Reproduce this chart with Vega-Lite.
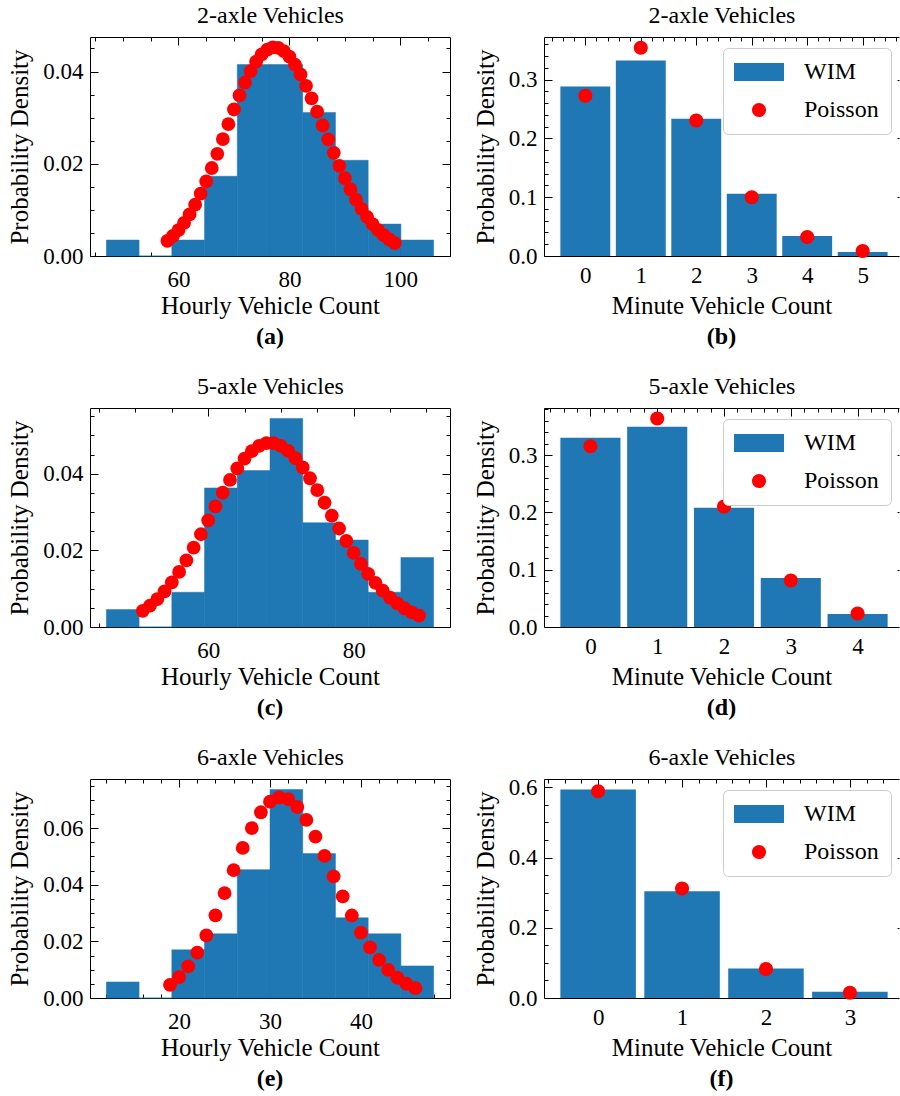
{
  "$schema": "https://vega.github.io/schema/vega-lite/v6.json",
  "padding": {"left": 7, "top": 3, "right": 0, "bottom": 0},
  "background": "white",
  "resolve": {"scale": {"color": "independent", "shape": "independent"}},
  "config": {
    "view": {"stroke": null},
    "font": "Liberation Serif",
    "axis": {
      "labelFont": "Liberation Serif", "labelFontSize": 23, "labelColor": "black",
      "titleFont": "Liberation Serif", "titleFontSize": 25, "titleFontWeight": "normal", "titleColor": "black",
      "domainColor": "black", "domainWidth": 1, "tickColor": "black", "tickWidth": 1,
      "grid": false, "labelOverlap": false, "labelFlush": false, "labelBound": false, "zindex": 1
    },
    "axisBottom": {"labelPadding": 16, "titlePadding": 2},
    "axisLeft": {"labelPadding": 15, "titlePadding": 10},
    "axisTop": {"titleFontSize": 24, "titlePadding": 9},
    "title": {"font": "Liberation Serif", "fontSize": 24, "fontWeight": "bold", "color": "black", "offset": 7, "anchor": "middle"}
  },
  "datasets": {
    "hist_a": [
      {"bin_start": 47, "bin_end": 52.9, "density": 0.003459},
      {"bin_start": 52.9, "bin_end": 58.8, "density": 0},
      {"bin_start": 58.8, "bin_end": 64.7, "density": 0.003459},
      {"bin_start": 64.7, "bin_end": 70.6, "density": 0.017295},
      {"bin_start": 70.6, "bin_end": 76.5, "density": 0.041508},
      {"bin_start": 76.5, "bin_end": 82.4, "density": 0.041508},
      {"bin_start": 82.4, "bin_end": 88.3, "density": 0.031131},
      {"bin_start": 88.3, "bin_end": 94.2, "density": 0.020754},
      {"bin_start": 94.2, "bin_end": 100.1, "density": 0.006918},
      {"bin_start": 100.1, "bin_end": 106, "density": 0.003459}
    ],
    "pois_a": [
      {"k": 58, "p": 0.00329}, {"k": 59, "p": 0.00434}, {"k": 60, "p": 0.00563}, {"k": 61, "p": 0.00718},
      {"k": 62, "p": 0.00901}, {"k": 63, "p": 0.01113}, {"k": 64, "p": 0.01353}, {"k": 65, "p": 0.01619},
      {"k": 66, "p": 0.01908}, {"k": 67, "p": 0.02216}, {"k": 68, "p": 0.02536}, {"k": 69, "p": 0.02859},
      {"k": 70, "p": 0.03177}, {"k": 71, "p": 0.03482}, {"k": 72, "p": 0.03762}, {"k": 73, "p": 0.04010},
      {"k": 74, "p": 0.04216}, {"k": 75, "p": 0.04373}, {"k": 76, "p": 0.04476}, {"k": 77, "p": 0.04523},
      {"k": 78, "p": 0.04511}, {"k": 79, "p": 0.04443}, {"k": 80, "p": 0.04321}, {"k": 81, "p": 0.04150},
      {"k": 82, "p": 0.03937}, {"k": 83, "p": 0.03691}, {"k": 84, "p": 0.03418}, {"k": 85, "p": 0.03129},
      {"k": 86, "p": 0.02830}, {"k": 87, "p": 0.02531}, {"k": 88, "p": 0.02238}, {"k": 89, "p": 0.01956},
      {"k": 90, "p": 0.01691}, {"k": 91, "p": 0.01446}, {"k": 92, "p": 0.01223}, {"k": 93, "p": 0.01023},
      {"k": 94, "p": 0.00846}, {"k": 95, "p": 0.00693}, {"k": 96, "p": 0.00562}, {"k": 97, "p": 0.00451},
      {"k": 98, "p": 0.00358}, {"k": 99, "p": 0.00281}
    ],
    "hist_c": [
      {"bin_start": 46, "bin_end": 50.5, "density": 0.004535},
      {"bin_start": 50.5, "bin_end": 55, "density": 0},
      {"bin_start": 55, "bin_end": 59.5, "density": 0.009070},
      {"bin_start": 59.5, "bin_end": 64, "density": 0.036281},
      {"bin_start": 64, "bin_end": 68.5, "density": 0.040816},
      {"bin_start": 68.5, "bin_end": 73, "density": 0.054422},
      {"bin_start": 73, "bin_end": 77.5, "density": 0.027211},
      {"bin_start": 77.5, "bin_end": 82, "density": 0.022676},
      {"bin_start": 82, "bin_end": 86.5, "density": 0.009070},
      {"bin_start": 86.5, "bin_end": 91, "density": 0.018141}
    ],
    "pois_c": [
      {"k": 51, "p": 0.00421}, {"k": 52, "p": 0.00559}, {"k": 53, "p": 0.00727}, {"k": 54, "p": 0.00929},
      {"k": 55, "p": 0.01166}, {"k": 56, "p": 0.01437}, {"k": 57, "p": 0.01739}, {"k": 58, "p": 0.02069},
      {"k": 59, "p": 0.02420}, {"k": 60, "p": 0.02782}, {"k": 61, "p": 0.03147}, {"k": 62, "p": 0.03503},
      {"k": 63, "p": 0.03836}, {"k": 64, "p": 0.04136}, {"k": 65, "p": 0.04391}, {"k": 66, "p": 0.04590},
      {"k": 67, "p": 0.04727}, {"k": 68, "p": 0.04797}, {"k": 69, "p": 0.04797}, {"k": 70, "p": 0.04728},
      {"k": 71, "p": 0.04595}, {"k": 72, "p": 0.04404}, {"k": 73, "p": 0.04162}, {"k": 74, "p": 0.03881},
      {"k": 75, "p": 0.03571}, {"k": 76, "p": 0.03242}, {"k": 77, "p": 0.02905}, {"k": 78, "p": 0.02570},
      {"k": 79, "p": 0.02244}, {"k": 80, "p": 0.01936}, {"k": 81, "p": 0.01649}, {"k": 82, "p": 0.01388},
      {"k": 83, "p": 0.01154}, {"k": 84, "p": 0.00948}, {"k": 85, "p": 0.00769}, {"k": 86, "p": 0.00617},
      {"k": 87, "p": 0.00489}, {"k": 88, "p": 0.00384}, {"k": 89, "p": 0.00298}
    ],
    "hist_e": [
      {"bin_start": 12, "bin_end": 15.6, "density": 0.005669},
      {"bin_start": 15.6, "bin_end": 19.2, "density": 0},
      {"bin_start": 19.2, "bin_end": 22.8, "density": 0.017007},
      {"bin_start": 22.8, "bin_end": 26.4, "density": 0.022676},
      {"bin_start": 26.4, "bin_end": 30, "density": 0.045351},
      {"bin_start": 30, "bin_end": 33.6, "density": 0.073696},
      {"bin_start": 33.6, "bin_end": 37.2, "density": 0.051020},
      {"bin_start": 37.2, "bin_end": 40.8, "density": 0.028345},
      {"bin_start": 40.8, "bin_end": 44.4, "density": 0.022676},
      {"bin_start": 44.4, "bin_end": 48, "density": 0.011338}
    ],
    "pois_e": [
      {"k": 19, "p": 0.00466}, {"k": 20, "p": 0.00738}, {"k": 21, "p": 0.01114}, {"k": 22, "p": 0.01605},
      {"k": 23, "p": 0.02212}, {"k": 24, "p": 0.02922}, {"k": 25, "p": 0.03705}, {"k": 26, "p": 0.04517},
      {"k": 27, "p": 0.05303}, {"k": 28, "p": 0.06004}, {"k": 29, "p": 0.06563}, {"k": 30, "p": 0.06935},
      {"k": 31, "p": 0.07092}, {"k": 32, "p": 0.07025}, {"k": 33, "p": 0.06749}, {"k": 34, "p": 0.06292},
      {"k": 35, "p": 0.05699}, {"k": 36, "p": 0.05018}, {"k": 37, "p": 0.04299}, {"k": 38, "p": 0.03587},
      {"k": 39, "p": 0.02915}, {"k": 40, "p": 0.02310}, {"k": 41, "p": 0.01786}, {"k": 42, "p": 0.01348},
      {"k": 43, "p": 0.00994}, {"k": 44, "p": 0.00716}, {"k": 45, "p": 0.00504}, {"k": 46, "p": 0.00348}
    ],
    "wim_b": [
      {"k": 0, "p": 0.2881, "series": "WIM"}, {"k": 1, "p": 0.3324, "series": "WIM"},
      {"k": 2, "p": 0.2335, "series": "WIM"}, {"k": 3, "p": 0.1057, "series": "WIM"},
      {"k": 4, "p": 0.0341, "series": "WIM"}, {"k": 5, "p": 0.0068, "series": "WIM"}
    ],
    "pois_b": [
      {"k": 0, "p": 0.2725, "series": "Poisson"}, {"k": 1, "p": 0.3543, "series": "Poisson"},
      {"k": 2, "p": 0.2303, "series": "Poisson"}, {"k": 3, "p": 0.0998, "series": "Poisson"},
      {"k": 4, "p": 0.0324, "series": "Poisson"}, {"k": 5, "p": 0.0084, "series": "Poisson"}
    ],
    "wim_d": [
      {"k": 0, "p": 0.3302, "series": "WIM"}, {"k": 1, "p": 0.3494, "series": "WIM"},
      {"k": 2, "p": 0.2079, "series": "WIM"}, {"k": 3, "p": 0.0856, "series": "WIM"},
      {"k": 4, "p": 0.0227, "series": "WIM"}
    ],
    "pois_d": [
      {"k": 0, "p": 0.3151, "series": "Poisson"}, {"k": 1, "p": 0.3639, "series": "Poisson"},
      {"k": 2, "p": 0.2101, "series": "Poisson"}, {"k": 3, "p": 0.0809, "series": "Poisson"},
      {"k": 4, "p": 0.0234, "series": "Poisson"}
    ],
    "wim_f": [
      {"k": 0, "p": 0.5941, "series": "WIM"}, {"k": 1, "p": 0.3038, "series": "WIM"},
      {"k": 2, "p": 0.0838, "series": "WIM"}, {"k": 3, "p": 0.0181, "series": "WIM"}
    ],
    "pois_f": [
      {"k": 0, "p": 0.5886, "series": "Poisson"}, {"k": 1, "p": 0.3120, "series": "Poisson"},
      {"k": 2, "p": 0.0827, "series": "Poisson"}, {"k": 3, "p": 0.0146, "series": "Poisson"}
    ]
  },
  "vconcat": [
    {
      "resolve": {"scale": {"color": "independent", "shape": "independent"}},
      "hconcat": [
        {
          "width": 360, "height": 219,
          "title": {"text": "(a)", "orient": "bottom"},
          "resolve": {"axis": {"x": "independent", "y": "independent"}},
          "layer": [
            {
              "data": {"name": "hist_a"},
              "mark": {"type": "bar", "color": "#1f77b4", "stroke": "#1f77b4", "strokeWidth": 0.5},
              "encoding": {
                "x": {"field": "bin_start", "type": "quantitative", "scale": {"domain": [44.05, 108.95], "nice": false, "zero": false, "padding": 0},
                  "axis": {"orient": "bottom", "title": "Hourly Vehicle Count", "labelOverlap": false, "labelPadding": 16, "titlePadding": -2, "labelBaseline": "line-top", "labelLineHeight": 31, "values": [45, 50, 55, 60, 65, 70, 75, 80, 85, 90, 95, 100, 105], "format": "d",
                    "labelExpr": "datum.value % 20 === 0 ? datum.label : ''",
                    "tickSize": {"condition": {"test": "datum.value % 20 === 0", "value": -8}, "value": -4}}},
                "x2": {"field": "bin_end"},
                "y": {"field": "density", "type": "quantitative", "scale": {"domain": [0, 0.04749], "nice": false},
                  "axis": {"orient": "left", "title": "Probability Density", "labelOverlap": false, "values": [0, 0.005, 0.01, 0.015, 0.02, 0.025, 0.03, 0.035, 0.04, 0.045], "format": ".2f",
                    "labelExpr": "round(datum.value*1000) % 20 === 0 ? datum.label : ''",
                    "tickSize": {"condition": {"test": "round(datum.value*1000) % 20 === 0", "value": -8}, "value": -4}}},
                "y2": {"datum": 0}
              }
            },
            {
              "data": {"name": "pois_a"},
              "mark": {"type": "point", "filled": true, "color": "#ff0000", "opacity": 1, "size": 190},
              "encoding": {
                "x": {"field": "k", "type": "quantitative", "scale": {"domain": [44.05, 108.95], "nice": false, "zero": false, "padding": 0},
                  "axis": {"orient": "top", "title": "2-axle Vehicles", "labels": false, "values": [45, 50, 55, 60, 65, 70, 75, 80, 85, 90, 95, 100, 105],
                    "tickSize": {"condition": {"test": "datum.value % 20 === 0", "value": -8}, "value": -4}}},
                "y": {"field": "p", "type": "quantitative", "scale": {"domain": [0, 0.04749], "nice": false},
                  "axis": {"orient": "right", "title": null, "labels": false, "values": [0, 0.005, 0.01, 0.015, 0.02, 0.025, 0.03, 0.035, 0.04, 0.045],
                    "tickSize": {"condition": {"test": "round(datum.value*1000) % 20 === 0", "value": -8}, "value": -4}}}
              }
            }
          ]
        },
        {
          "width": 355, "height": 219,
          "title": {"text": "(b)", "orient": "bottom"},
          "resolve": {"axis": {"x": "independent", "y": "independent"}},
          "layer": [
            {
              "data": {"name": "wim_b"},
              "mark": {"type": "bar", "width": 49.9},
              "encoding": {
                "x": {"field": "k", "type": "quantitative", "scale": {"domain": [-0.745, 5.655], "nice": false, "zero": false, "padding": 0},
                  "axis": {"orient": "bottom", "title": "Minute Vehicle Count", "labelOverlap": false, "titlePadding": 6, "values": [0, 1, 2, 3, 4, 5], "format": "d", "tickSize": -8}},
                "y": {"field": "p", "type": "quantitative", "scale": {"domain": [0, 0.3725], "nice": false},
                  "axis": {"orient": "left", "title": "Probability Density", "labelOverlap": false, "values": [0, 0.02, 0.04, 0.06, 0.08, 0.1, 0.12, 0.14, 0.16, 0.18, 0.2, 0.22, 0.24, 0.26, 0.28, 0.3, 0.32, 0.34, 0.36], "format": ".1f",
                    "labelExpr": "round(datum.value*100) % 10 === 0 ? datum.label : ''",
                    "tickSize": {"condition": {"test": "round(datum.value*100) % 10 === 0", "value": -8}, "value": -4}}},
                "color": {"field": "series", "type": "nominal", "scale": {"domain": ["WIM", "Poisson"], "range": ["#1f77b4", "#ff0000"]},
                  "legend": {"title": null, "orient": "none", "legendX": 179, "legendY": 11, "symbolSize": 196, "labelFontSize": 24, "labelFont": "Liberation Serif", "labelColor": "black", "fillColor": "white", "strokeColor": "#cccccc", "cornerRadius": 5, "padding": 12, "rowPadding": 14, "symbolOffset": 12, "labelOffset": 33, "symbolStrokeWidth": 0, "symbolOpacity": 1}}
              }
            },
            {
              "data": {"name": "pois_b"},
              "mark": {"type": "point", "filled": true, "opacity": 1, "size": 196},
              "encoding": {
                "x": {"field": "k", "type": "quantitative", "scale": {"domain": [-0.745, 5.655], "nice": false, "zero": false, "padding": 0},
                  "axis": {"orient": "top", "title": "2-axle Vehicles", "labels": false, "values": [-0.6, -0.4, -0.2, 0, 0.2, 0.4, 0.6, 0.8, 1, 1.2, 1.4, 1.6, 1.8, 2, 2.2, 2.4, 2.6, 2.8, 3, 3.2, 3.4, 3.6, 3.8, 4, 4.2, 4.4, 4.6, 4.8, 5, 5.2, 5.4, 5.6],
                    "tickSize": {"condition": {"test": "abs(datum.value - round(datum.value)) < 0.01", "value": -8}, "value": -4}}},
                "y": {"field": "p", "type": "quantitative", "scale": {"domain": [0, 0.3725], "nice": false},
                  "axis": {"orient": "right", "title": null, "labels": false, "domain": false, "values": [0.1, 0.2, 0.3], "tickSize": -2}},
                "color": {"field": "series", "type": "nominal", "scale": {"domain": ["WIM", "Poisson"], "range": ["#1f77b4", "#ff0000"]},
                  "legend": {"title": null, "orient": "none", "legendX": 179, "legendY": 11, "symbolSize": 196, "labelFontSize": 24, "labelFont": "Liberation Serif", "labelColor": "black", "fillColor": "white", "strokeColor": "#cccccc", "cornerRadius": 5, "padding": 12, "rowPadding": 14, "symbolOffset": 12, "labelOffset": 33, "symbolStrokeWidth": 0, "symbolOpacity": 1}},
                "shape": {"field": "series", "type": "nominal", "scale": {"domain": ["WIM", "Poisson"], "range": ["M-3.57,-1.29H3.57V1.29H-3.57Z", "M1,0A1,1,0,1,1,-1,0A1,1,0,1,1,1,0Z"]},
                  "legend": {"title": null, "orient": "none", "legendX": 179, "legendY": 11, "symbolSize": 196, "labelFontSize": 24, "labelFont": "Liberation Serif", "labelColor": "black", "fillColor": "white", "strokeColor": "#cccccc", "cornerRadius": 5, "padding": 12, "rowPadding": 14, "symbolOffset": 12, "labelOffset": 33, "symbolStrokeWidth": 0, "symbolOpacity": 1}}
              }
            }
          ]
        }
      ],
      "spacing": 22
    },
    {
      "resolve": {"scale": {"color": "independent", "shape": "independent"}},
      "hconcat": [
        {
          "width": 360, "height": 219,
          "title": {"text": "(c)", "orient": "bottom"},
          "resolve": {"axis": {"x": "independent", "y": "independent"}},
          "layer": [
            {
              "data": {"name": "hist_c"},
              "mark": {"type": "bar", "color": "#1f77b4", "stroke": "#1f77b4", "strokeWidth": 0.5},
              "encoding": {
                "x": {"field": "bin_start", "type": "quantitative", "scale": {"domain": [43.75, 93.25], "nice": false, "zero": false, "padding": 0},
                  "axis": {"orient": "bottom", "title": "Hourly Vehicle Count", "labelOverlap": false, "labelPadding": 16, "titlePadding": -2, "labelBaseline": "line-top", "labelLineHeight": 31, "values": [45, 50, 55, 60, 65, 70, 75, 80, 85, 90], "format": "d",
                    "labelExpr": "datum.value % 20 === 0 ? datum.label : ''",
                    "tickSize": {"condition": {"test": "datum.value % 20 === 0", "value": -8}, "value": -4}}},
                "x2": {"field": "bin_end"},
                "y": {"field": "density", "type": "quantitative", "scale": {"domain": [0, 0.05714], "nice": false},
                  "axis": {"orient": "left", "title": "Probability Density", "labelOverlap": false, "values": [0, 0.005, 0.01, 0.015, 0.02, 0.025, 0.03, 0.035, 0.04, 0.045, 0.05, 0.055], "format": ".2f",
                    "labelExpr": "round(datum.value*1000) % 20 === 0 ? datum.label : ''",
                    "tickSize": {"condition": {"test": "round(datum.value*1000) % 20 === 0", "value": -8}, "value": -4}}},
                "y2": {"datum": 0}
              }
            },
            {
              "data": {"name": "pois_c"},
              "mark": {"type": "point", "filled": true, "color": "#ff0000", "opacity": 1, "size": 190},
              "encoding": {
                "x": {"field": "k", "type": "quantitative", "scale": {"domain": [43.75, 93.25], "nice": false, "zero": false, "padding": 0},
                  "axis": {"orient": "top", "title": "5-axle Vehicles", "labels": false, "values": [45, 50, 55, 60, 65, 70, 75, 80, 85, 90],
                    "tickSize": {"condition": {"test": "datum.value % 20 === 0", "value": -8}, "value": -4}}},
                "y": {"field": "p", "type": "quantitative", "scale": {"domain": [0, 0.05714], "nice": false},
                  "axis": {"orient": "right", "title": null, "labels": false, "values": [0, 0.005, 0.01, 0.015, 0.02, 0.025, 0.03, 0.035, 0.04, 0.045, 0.05, 0.055],
                    "tickSize": {"condition": {"test": "round(datum.value*1000) % 20 === 0", "value": -8}, "value": -4}}}
              }
            }
          ]
        },
        {
          "width": 355, "height": 219,
          "title": {"text": "(d)", "orient": "bottom"},
          "resolve": {"axis": {"x": "independent", "y": "independent"}},
          "layer": [
            {
              "data": {"name": "wim_d"},
              "mark": {"type": "bar", "width": 60.1},
              "encoding": {
                "x": {"field": "k", "type": "quantitative", "scale": {"domain": [-0.695, 4.62], "nice": false, "zero": false, "padding": 0},
                  "axis": {"orient": "bottom", "title": "Minute Vehicle Count", "labelOverlap": false, "titlePadding": 6, "values": [0, 1, 2, 3, 4], "format": "d", "tickSize": -8}},
                "y": {"field": "p", "type": "quantitative", "scale": {"domain": [0, 0.382], "nice": false},
                  "axis": {"orient": "left", "title": "Probability Density", "labelOverlap": false, "values": [0, 0.02, 0.04, 0.06, 0.08, 0.1, 0.12, 0.14, 0.16, 0.18, 0.2, 0.22, 0.24, 0.26, 0.28, 0.3, 0.32, 0.34, 0.36, 0.38], "format": ".1f",
                    "labelExpr": "round(datum.value*100) % 10 === 0 ? datum.label : ''",
                    "tickSize": {"condition": {"test": "round(datum.value*100) % 10 === 0", "value": -8}, "value": -4}}},
                "color": {"field": "series", "type": "nominal", "scale": {"domain": ["WIM", "Poisson"], "range": ["#1f77b4", "#ff0000"]},
                  "legend": {"title": null, "orient": "none", "legendX": 179, "legendY": 11, "symbolSize": 196, "labelFontSize": 24, "labelFont": "Liberation Serif", "labelColor": "black", "fillColor": "white", "strokeColor": "#cccccc", "cornerRadius": 5, "padding": 12, "rowPadding": 14, "symbolOffset": 12, "labelOffset": 33, "symbolStrokeWidth": 0, "symbolOpacity": 1}}
              }
            },
            {
              "data": {"name": "pois_d"},
              "mark": {"type": "point", "filled": true, "opacity": 1, "size": 196},
              "encoding": {
                "x": {"field": "k", "type": "quantitative", "scale": {"domain": [-0.695, 4.62], "nice": false, "zero": false, "padding": 0},
                  "axis": {"orient": "top", "title": "5-axle Vehicles", "labels": false, "values": [-0.6, -0.4, -0.2, 0, 0.2, 0.4, 0.6, 0.8, 1, 1.2, 1.4, 1.6, 1.8, 2, 2.2, 2.4, 2.6, 2.8, 3, 3.2, 3.4, 3.6, 3.8, 4, 4.2, 4.4, 4.6],
                    "tickSize": {"condition": {"test": "abs(datum.value - round(datum.value)) < 0.01", "value": -8}, "value": -4}}},
                "y": {"field": "p", "type": "quantitative", "scale": {"domain": [0, 0.382], "nice": false},
                  "axis": {"orient": "right", "title": null, "labels": false, "domain": false, "values": [0.1, 0.2, 0.3], "tickSize": -2}},
                "color": {"field": "series", "type": "nominal", "scale": {"domain": ["WIM", "Poisson"], "range": ["#1f77b4", "#ff0000"]},
                  "legend": {"title": null, "orient": "none", "legendX": 179, "legendY": 11, "symbolSize": 196, "labelFontSize": 24, "labelFont": "Liberation Serif", "labelColor": "black", "fillColor": "white", "strokeColor": "#cccccc", "cornerRadius": 5, "padding": 12, "rowPadding": 14, "symbolOffset": 12, "labelOffset": 33, "symbolStrokeWidth": 0, "symbolOpacity": 1}},
                "shape": {"field": "series", "type": "nominal", "scale": {"domain": ["WIM", "Poisson"], "range": ["M-3.57,-1.29H3.57V1.29H-3.57Z", "M1,0A1,1,0,1,1,-1,0A1,1,0,1,1,1,0Z"]},
                  "legend": {"title": null, "orient": "none", "legendX": 179, "legendY": 11, "symbolSize": 196, "labelFontSize": 24, "labelFont": "Liberation Serif", "labelColor": "black", "fillColor": "white", "strokeColor": "#cccccc", "cornerRadius": 5, "padding": 12, "rowPadding": 14, "symbolOffset": 12, "labelOffset": 33, "symbolStrokeWidth": 0, "symbolOpacity": 1}}
              }
            }
          ]
        }
      ],
      "spacing": 22
    },
    {
      "resolve": {"scale": {"color": "independent", "shape": "independent"}},
      "hconcat": [
        {
          "width": 360, "height": 219,
          "title": {"text": "(e)", "orient": "bottom"},
          "resolve": {"axis": {"x": "independent", "y": "independent"}},
          "layer": [
            {
              "data": {"name": "hist_e"},
              "mark": {"type": "bar", "color": "#1f77b4", "stroke": "#1f77b4", "strokeWidth": 0.5},
              "encoding": {
                "x": {"field": "bin_start", "type": "quantitative", "scale": {"domain": [10.2, 49.8], "nice": false, "zero": false, "padding": 0},
                  "axis": {"orient": "bottom", "title": "Hourly Vehicle Count", "labelOverlap": false, "labelPadding": 16, "titlePadding": -2, "labelBaseline": "line-top", "labelLineHeight": 31, "values": [12, 14, 16, 18, 20, 22, 24, 26, 28, 30, 32, 34, 36, 38, 40, 42, 44, 46, 48], "format": "d",
                    "labelExpr": "datum.value % 10 === 0 ? datum.label : ''",
                    "tickSize": {"condition": {"test": "datum.value % 10 === 0", "value": -8}, "value": -4}}},
                "x2": {"field": "bin_end"},
                "y": {"field": "density", "type": "quantitative", "scale": {"domain": [0, 0.07738], "nice": false},
                  "axis": {"orient": "left", "title": "Probability Density", "labelOverlap": false, "values": [0, 0.005, 0.01, 0.015, 0.02, 0.025, 0.03, 0.035, 0.04, 0.045, 0.05, 0.055, 0.06, 0.065, 0.07, 0.075], "format": ".2f",
                    "labelExpr": "round(datum.value*1000) % 20 === 0 ? datum.label : ''",
                    "tickSize": {"condition": {"test": "round(datum.value*1000) % 20 === 0", "value": -8}, "value": -4}}},
                "y2": {"datum": 0}
              }
            },
            {
              "data": {"name": "pois_e"},
              "mark": {"type": "point", "filled": true, "color": "#ff0000", "opacity": 1, "size": 190},
              "encoding": {
                "x": {"field": "k", "type": "quantitative", "scale": {"domain": [10.2, 49.8], "nice": false, "zero": false, "padding": 0},
                  "axis": {"orient": "top", "title": "6-axle Vehicles", "labels": false, "values": [12, 14, 16, 18, 20, 22, 24, 26, 28, 30, 32, 34, 36, 38, 40, 42, 44, 46, 48],
                    "tickSize": {"condition": {"test": "datum.value % 10 === 0", "value": -8}, "value": -4}}},
                "y": {"field": "p", "type": "quantitative", "scale": {"domain": [0, 0.07738], "nice": false},
                  "axis": {"orient": "right", "title": null, "labels": false, "values": [0, 0.005, 0.01, 0.015, 0.02, 0.025, 0.03, 0.035, 0.04, 0.045, 0.05, 0.055, 0.06, 0.065, 0.07, 0.075],
                    "tickSize": {"condition": {"test": "round(datum.value*1000) % 20 === 0", "value": -8}, "value": -4}}}
              }
            }
          ]
        },
        {
          "width": 355, "height": 219,
          "title": {"text": "(f)", "orient": "bottom"},
          "resolve": {"axis": {"x": "independent", "y": "independent"}},
          "layer": [
            {
              "data": {"name": "wim_f"},
              "mark": {"type": "bar", "width": 75.5},
              "encoding": {
                "x": {"field": "k", "type": "quantitative", "scale": {"domain": [-0.645, 3.585], "nice": false, "zero": false, "padding": 0},
                  "axis": {"orient": "bottom", "title": "Minute Vehicle Count", "labelOverlap": false, "titlePadding": 6, "values": [0, 1, 2, 3], "format": "d", "tickSize": -8}},
                "y": {"field": "p", "type": "quantitative", "scale": {"domain": [0, 0.6238], "nice": false},
                  "axis": {"orient": "left", "title": "Probability Density", "labelOverlap": false, "values": [0, 0.05, 0.1, 0.15, 0.2, 0.25, 0.3, 0.35, 0.4, 0.45, 0.5, 0.55, 0.6], "format": ".1f",
                    "labelExpr": "round(datum.value*100) % 20 === 0 ? datum.label : ''",
                    "tickSize": {"condition": {"test": "round(datum.value*100) % 20 === 0", "value": -8}, "value": -4}}},
                "color": {"field": "series", "type": "nominal", "scale": {"domain": ["WIM", "Poisson"], "range": ["#1f77b4", "#ff0000"]},
                  "legend": {"title": null, "orient": "none", "legendX": 179, "legendY": 11, "symbolSize": 196, "labelFontSize": 24, "labelFont": "Liberation Serif", "labelColor": "black", "fillColor": "white", "strokeColor": "#cccccc", "cornerRadius": 5, "padding": 12, "rowPadding": 14, "symbolOffset": 12, "labelOffset": 33, "symbolStrokeWidth": 0, "symbolOpacity": 1}}
              }
            },
            {
              "data": {"name": "pois_f"},
              "mark": {"type": "point", "filled": true, "opacity": 1, "size": 196},
              "encoding": {
                "x": {"field": "k", "type": "quantitative", "scale": {"domain": [-0.645, 3.585], "nice": false, "zero": false, "padding": 0},
                  "axis": {"orient": "top", "title": "6-axle Vehicles", "labels": false, "values": [-0.6, -0.4, -0.2, 0, 0.2, 0.4, 0.6, 0.8, 1, 1.2, 1.4, 1.6, 1.8, 2, 2.2, 2.4, 2.6, 2.8, 3, 3.2, 3.4],
                    "tickSize": {"condition": {"test": "abs(datum.value - round(datum.value)) < 0.01", "value": -8}, "value": -4}}},
                "y": {"field": "p", "type": "quantitative", "scale": {"domain": [0, 0.6238], "nice": false},
                  "axis": {"orient": "right", "title": null, "labels": false, "domain": false, "values": [0.2, 0.4], "tickSize": -2}},
                "color": {"field": "series", "type": "nominal", "scale": {"domain": ["WIM", "Poisson"], "range": ["#1f77b4", "#ff0000"]},
                  "legend": {"title": null, "orient": "none", "legendX": 179, "legendY": 11, "symbolSize": 196, "labelFontSize": 24, "labelFont": "Liberation Serif", "labelColor": "black", "fillColor": "white", "strokeColor": "#cccccc", "cornerRadius": 5, "padding": 12, "rowPadding": 14, "symbolOffset": 12, "labelOffset": 33, "symbolStrokeWidth": 0, "symbolOpacity": 1}},
                "shape": {"field": "series", "type": "nominal", "scale": {"domain": ["WIM", "Poisson"], "range": ["M-3.57,-1.29H3.57V1.29H-3.57Z", "M1,0A1,1,0,1,1,-1,0A1,1,0,1,1,1,0Z"]},
                  "legend": {"title": null, "orient": "none", "legendX": 179, "legendY": 11, "symbolSize": 196, "labelFontSize": 24, "labelFont": "Liberation Serif", "labelColor": "black", "fillColor": "white", "strokeColor": "#cccccc", "cornerRadius": 5, "padding": 12, "rowPadding": 14, "symbolOffset": 12, "labelOffset": 33, "symbolStrokeWidth": 0, "symbolOpacity": 1}}
              }
            }
          ]
        }
      ],
      "spacing": 22
    }
  ],
  "spacing": 25
}
